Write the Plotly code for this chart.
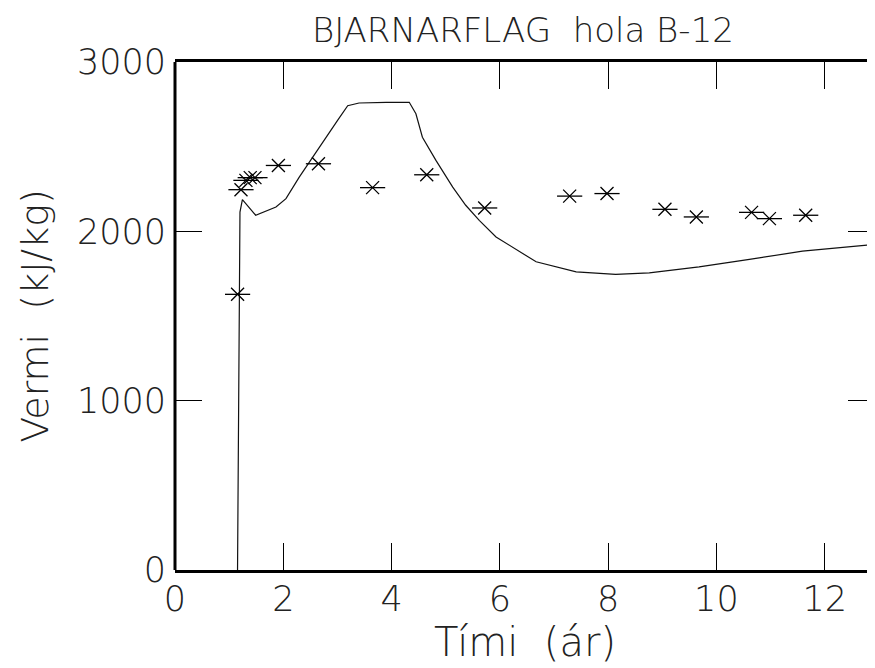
import plotly.graph_objects as go

# Simulated curve (line)
curve_x = [1.155, 1.186, 1.20, 1.245, 1.49, 1.865, 2.05, 2.295, 2.60, 3.00, 3.19, 3.40, 3.90, 4.327,
           4.45, 4.57, 4.82, 5.13, 5.37, 5.62, 5.93, 6.67, 7.41, 8.14, 8.76, 9.68, 10.61, 11.59, 12.91]
curve_y = [0, 1771, 2114, 2187, 2095, 2144, 2193, 2320, 2468, 2654, 2742, 2758, 2762, 2762,
           2694, 2556, 2419, 2261, 2154, 2065, 1967, 1820, 1761, 1746, 1755, 1790, 1834, 1883, 1922]

# Measured points (stars)
meas_x = [1.156, 1.219, 1.31, 1.39, 1.477, 1.91, 2.65, 3.65, 4.65, 5.72, 7.29, 7.98, 9.05, 9.63,
          10.65, 10.98, 11.65]
meas_y = [1628, 2246, 2301, 2317, 2317, 2389, 2399, 2258, 2334, 2138, 2208, 2223, 2130, 2085,
          2112, 2075, 2095]

x_ticks = [0, 2, 4, 6, 8, 10, 12]
y_ticks = [0, 1000, 2000, 3000]

title_text = "BJARNARFLAG&nbsp;&nbsp;hola B-12"
x_title = "Tími&nbsp;&nbsp;(ár)"
y_title = "Vermi&nbsp;&nbsp;(kJ/kg)"

FONT = "DejaVu Sans"
TXT = "#222222"

fig = go.Figure()
fig.add_trace(go.Scatter(x=curve_x, y=curve_y, mode="lines",
                         line=dict(color="#111111", width=1.2), showlegend=False,
                         hoverinfo="skip"))
fig.add_trace(go.Scatter(x=meas_x, y=meas_y, mode="markers",
                         marker=dict(symbol="x-thin-open", size=13, color="black",
                                     line=dict(color="black", width=1.3)),
                         showlegend=False))
fig.add_trace(go.Scatter(x=meas_x, y=meas_y, mode="markers",
                         marker=dict(symbol="line-ew-open", size=18, color="black",
                                     line=dict(color="black", width=1.3)),
                         showlegend=False))

# page has an 8px body margin: figure sits at (8, 8)
fig.update_layout(
    width=867, height=660,
    margin=dict(l=167, r=0, t=54, b=98, autoexpand=False),
    paper_bgcolor="white", plot_bgcolor="white",
    title=dict(text=title_text, x=0.497, xref="paper", xanchor="center",
               y=1 - 22 / 660, yref="container", yanchor="middle",
               font=dict(family=FONT, size=34, color=TXT, weight=200)),
    shapes=[dict(type="line", xref="paper", yref="paper", x0=0, x1=0, y0=0, y1=1,
                 line=dict(color="black", width=3))],
)
fig.update_xaxes(
    range=[0, 12.93], tickvals=x_ticks, ticktext=[str(v) for v in x_ticks],
    ticks="inside", ticklen=27, tickwidth=1.3, tickcolor="black",
    showline=True, linewidth=3, linecolor="black", mirror="ticks",
    showgrid=False, zeroline=False, automargin=False,
    tickfont=dict(family=FONT, size=35, color=TXT, weight=200),
    ticklabelstandoff=-4,
    title=dict(text=x_title, font=dict(family=FONT, size=40, color=TXT, weight=200), standoff=4),
)
fig.update_yaxes(
    range=[0, 3000], tickvals=y_ticks, ticktext=[str(v) for v in y_ticks],
    ticks="inside", ticklen=27, tickwidth=1.3, tickcolor="black",
    showline=False, mirror="ticks",
    showgrid=False, zeroline=False, automargin=False,
    tickfont=dict(family=FONT, size=35, color=TXT, weight=200),
    ticklabelstandoff=8,
    title=dict(text=y_title, font=dict(family=FONT, size=38, color=TXT, weight=200), standoff=16),
)

fig.write_html("out.html")
